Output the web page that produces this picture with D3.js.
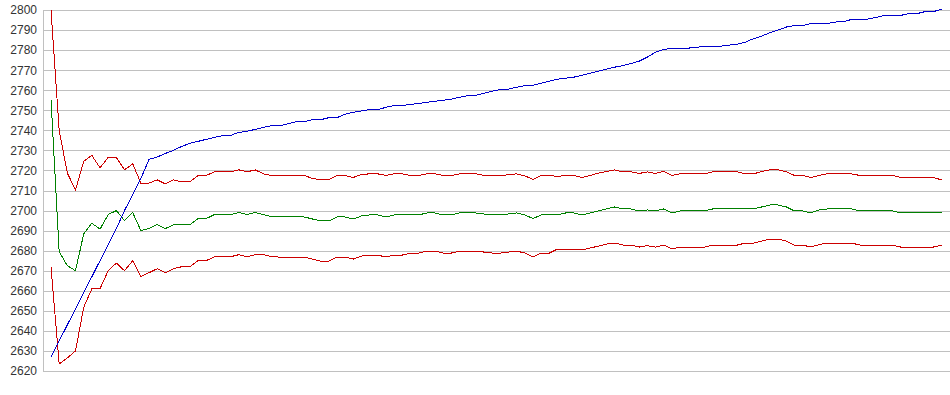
<!DOCTYPE html>
<html>
<head>
<meta charset="utf-8">
<script src="https://cdn.jsdelivr.net/npm/d3@7"></script>
<style>
  body { margin: 0; background: #fff; }
  #chart text { font-family: "Liberation Sans", Arial, sans-serif; font-size: 12px; fill: #333; }
</style>
</head>
<body>
<div id="chart"></div>
<script>
const yTicks = d3.range(2620, 2801, 10);

const blueLine = [
    2627, 2635, 2643, 2651, 2659, 2667, 2675, 2683, 2691, 2700, 2708, 2716, 2725.5,
    2726.7, 2728.5, 2730, 2732, 2733.5, 2734.5, 2735.5, 2736.5, 2737.3, 2737.5, 2739, 2739.5, 2740.5,
    2741.5, 2742.3, 2742.3, 2743.3, 2744.3, 2744.3, 2745.3, 2745.3, 2746.3, 2746.3, 2748, 2749,
    2749.7, 2750.3, 2750.3, 2751.5, 2752.3, 2752.3, 2753, 2753.3, 2754, 2754.5, 2755,
    2755.5, 2756.5, 2757.3, 2757.5, 2758.5, 2759.5, 2760.3, 2760.5, 2761.5, 2762.3, 2762.5, 2763.5,
    2764.5, 2765.5, 2766, 2766.5, 2767.5, 2768.5, 2769.5, 2770.5, 2771.5, 2772.3, 2773.3, 2774.5,
    2776.5, 2779, 2780.3, 2781, 2781, 2781, 2781.3, 2782, 2782, 2782, 2782.5, 2783, 2784,
    2785.7, 2787, 2788.7, 2790, 2791.5, 2792.3, 2792.3, 2793.2, 2793.2, 2793.2, 2794, 2794.2,
    2795.3, 2795.3, 2795.5, 2796.3, 2797.3, 2797.3, 2797.3, 2798.2, 2798.2, 2799.2, 2799.2, 2800.3
];

const redUpper = [
    2800, 2740, 2718.7, 2710.3, 2724.5, 2727.5, 2721.3, 2726.5, 2726.5, 2720.3,
    2723.3, 2713.7, 2713.7, 2715.3, 2713.3, 2715.3, 2714.3, 2714.3, 2717.5, 2717.5,
    2719.3, 2719.3, 2719.3, 2720.3, 2719.3, 2720.3, 2718.3, 2717.5, 2717.5, 2717.5,
    2717.5, 2717.5, 2716, 2715.3, 2715.3, 2717.5, 2717.5, 2716.5, 2718, 2718.3,
    2718.3, 2717.5, 2718.3, 2718.3, 2717.5, 2717.5, 2718.3, 2718.3, 2717.5, 2717.5,
    2718.3, 2718.3, 2718.3, 2717.5, 2717.5, 2717.5, 2717.8, 2718.3, 2717.3, 2715.5,
    2717.5, 2717.5, 2717, 2717.5, 2717.5, 2716.5, 2717.5, 2718.7, 2719.5, 2720.3,
    2719.3, 2719.3, 2718.5, 2719.3, 2718.5, 2719.5, 2717.5, 2718.3, 2718.3, 2718.3,
    2718.3, 2719.3, 2719.3, 2719.3, 2719.3, 2718.3, 2718.3, 2719.5, 2720.3, 2720.3,
    2719.3, 2717.5, 2717.5, 2716.5, 2717.5, 2718.3, 2718.3, 2718.3, 2718.3, 2717.5,
    2717.5, 2717.5, 2717.5, 2717.5, 2716.5, 2716.5, 2716.5, 2716.5, 2716.5, 2715.3
];

const greenMid = [
    2755.5, 2679.5, 2672.5, 2670, 2688.3, 2693.7, 2690.7, 2698, 2700, 2695,
    2699, 2690, 2691, 2693, 2691, 2693, 2693, 2693, 2696, 2696,
    2698, 2698, 2698, 2699, 2698, 2699, 2698, 2697, 2696.8, 2696.8,
    2696.8, 2696.8, 2695.8, 2694.8, 2694.8, 2696.8, 2696.8, 2695.8, 2697.3, 2697.8,
    2697.8, 2696.8, 2697.8, 2697.8, 2697.8, 2697.8, 2698.8, 2698.8, 2697.8, 2697.8,
    2698.8, 2698.8, 2698.8, 2698.3, 2697.8, 2697.8, 2698.3, 2698.8, 2697.8, 2696,
    2697.8, 2697.8, 2697.8, 2698.8, 2698.8, 2697.8, 2698.8, 2699.8, 2700.8, 2701.8,
    2700.8, 2700.8, 2699.8, 2700.3, 2699.8, 2700.8, 2698.8, 2699.8, 2699.8, 2699.8,
    2699.8, 2700.8, 2700.8, 2700.8, 2700.8, 2700.8, 2700.8, 2701.8, 2702.8, 2702.8,
    2701.8, 2699.8, 2699.8, 2698.8, 2700.3, 2700.8, 2700.8, 2700.8, 2700.8, 2699.8,
    2699.8, 2699.8, 2699.8, 2699.8, 2698.8, 2698.8, 2698.8, 2698.8, 2698.8, 2698.8
];

const redLower = [
    2672, 2623.5, 2626.5, 2630, 2651.7, 2661, 2661, 2670, 2673.8, 2670,
    2675, 2667.2, 2669, 2671, 2669, 2671, 2672, 2672, 2675, 2675,
    2677, 2677, 2677, 2678, 2677, 2678, 2678, 2677, 2676.8, 2676.8,
    2676.8, 2676.8, 2675.8, 2674.8, 2674.8, 2676.8, 2676.8, 2675.8, 2677.3, 2677.8,
    2677.8, 2676.8, 2677.8, 2677.8, 2678.8, 2678.8, 2679.8, 2679.8, 2678.8, 2678.8,
    2679.8, 2679.8, 2679.8, 2679.3, 2678.8, 2678.8, 2679.3, 2679.8, 2678.8, 2676.8,
    2678.8, 2678.8, 2680.8, 2680.8, 2680.8, 2680.3, 2681.3, 2682.3, 2683.3, 2683.8,
    2682.8, 2682.8, 2681.8, 2682.5, 2681.8, 2682.8, 2680.8, 2681.8, 2681.8, 2681.8,
    2681.8, 2682.8, 2682.8, 2682.8, 2682.8, 2683.8, 2683.8, 2684.8, 2685.8, 2685.8,
    2684.8, 2682.8, 2682.8, 2681.8, 2683, 2683.8, 2683.8, 2683.8, 2683.8, 2682.8,
    2682.8, 2682.8, 2682.8, 2682.8, 2681.8, 2681.8, 2681.8, 2681.8, 2681.8, 2682.8
];

const width = 950;
const height = 395;
const left = 43;

const svg = d3.select('#chart')
    .append('svg')
    .attr('width', width)
    .attr('height', height);

const x = d3.scaleLinear()
    .domain([0, redUpper.length - 1])
    .range([51, 941.5]);

const y = d3.scaleLinear()
    .domain([2620, 2800])
    .range([371, 10]);

// gridlines + labels
const yAxis = svg.append('g')
    .attr('transform', `translate(${left},0)`)
    .call(d3.axisLeft(y)
        .tickValues(yTicks)
        .tickFormat(d3.format('d'))
        .tickSizeInner(-(width - left))
        .tickSizeOuter(0)
        .tickPadding(6));

yAxis.selectAll('line, path')
    .attr('stroke', '#c0c0c0')
    .attr('shape-rendering', 'crispEdges');
yAxis.selectAll('text').attr('fill', '#333');

const line = d3.line()
    .x((d, i) => x(i))
    .y(d => y(d));

const series = [
    { values: redUpper, color: '#cc0000' },
    { values: greenMid, color: '#008000' },
    { values: redLower, color: '#cc0000' },
    { values: blueLine, color: '#0000cc' }
];

svg.append('g')
    .selectAll('path')
    .data(series)
    .enter().append('path')
    .attr('d', d => line(d.values))
    .attr('fill', 'none')
    .attr('stroke', d => d.color)
    .attr('stroke-width', 1)
    .attr('shape-rendering', 'crispEdges');
</script>
</body>
</html>
